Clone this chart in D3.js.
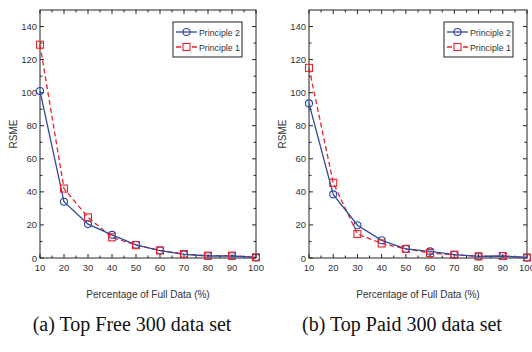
<!DOCTYPE html>
<html>
<head>
<meta charset="utf-8">
<script src="https://cdn.jsdelivr.net/npm/d3@7"></script>
<style>
  body { margin: 0; background: #fff; }
  svg text { font-family: "Liberation Sans", Arial, sans-serif; }
</style>
</head>
<body>
<svg id="chart" width="532" height="352"></svg>
<script>
var percentages = [10, 20, 30, 40, 50, 60, 70, 80, 90, 100];
var yTicks = [0, 20, 40, 60, 80, 100, 120, 140];

var freePrinciple2 = [101, 34, 20.5, 14, 8, 4.5, 2.2, 1.2, 1.2, 0.4];
var freePrinciple1 = [129, 42, 24.6, 12.5, 7.8, 4.6, 2.4, 1.4, 1.4, 0.4];
var paidPrinciple2 = [93.5, 38.5, 19.8, 10.7, 5.5, 4, 2, 1, 1.2, 0.3];
var paidPrinciple1 = [115, 45.5, 14.5, 8.8, 5.5, 3, 2, 1, 1.2, 0.3];

var captions = ['(a) Top Free 300 data set', '(b) Top Paid 300 data set'];
var blue = '#2e4a9e', red = '#e8232b';

var svg = d3.select('#chart');

function drawPanel(left, right, p2, p1, caption, captionX, legendX) {
    var top = 10, bottom = 258;
    var x = d3.scaleLinear().domain([10, 100]).range([left, right]);
    var y = d3.scaleLinear().domain([0, 150]).range([bottom, top]);
    var g = svg.append('g');

    // frame
    g.append('rect').attr('x', left).attr('y', top)
        .attr('width', right - left).attr('height', bottom - top)
        .attr('fill', 'none').attr('stroke', '#222').attr('stroke-width', 1);

    // inward ticks (major + minor)
    var xMinor = d3.range(15, 100, 10);
    var yMinor = d3.range(10, 150, 20);
    g.selectAll('.xt').data(percentages.concat(xMinor)).enter().append('line')
        .attr('x1', function(d) { return x(d); }).attr('x2', function(d) { return x(d); })
        .attr('y1', bottom).attr('y2', function(d) { return bottom - (d % 10 ? 2.5 : 4); })
        .attr('stroke', '#222');
    g.selectAll('.xtt').data(percentages.concat(xMinor)).enter().append('line')
        .attr('x1', function(d) { return x(d); }).attr('x2', function(d) { return x(d); })
        .attr('y1', top).attr('y2', function(d) { return top + (d % 10 ? 2.5 : 4); })
        .attr('stroke', '#222');
    g.selectAll('.yt').data(yTicks.concat(yMinor)).enter().append('line')
        .attr('y1', function(d) { return y(d); }).attr('y2', function(d) { return y(d); })
        .attr('x1', left).attr('x2', function(d) { return left + (d % 20 ? 2.5 : 4); })
        .attr('stroke', '#222');
    g.selectAll('.ytr').data(yTicks.concat(yMinor)).enter().append('line')
        .attr('y1', function(d) { return y(d); }).attr('y2', function(d) { return y(d); })
        .attr('x1', right).attr('x2', function(d) { return right - (d % 20 ? 2.5 : 4); })
        .attr('stroke', '#222');

    // tick labels
    g.selectAll('.xl').data(percentages).enter().append('text')
        .attr('x', function(d) { return x(d); }).attr('y', bottom + 13)
        .attr('text-anchor', 'middle').attr('font-size', 9.5).attr('fill', '#333')
        .text(function(d) { return d; });
    g.selectAll('.yl').data(yTicks).enter().append('text')
        .attr('x', left - 3).attr('y', function(d) { return y(d) + 3.5; })
        .attr('text-anchor', 'end').attr('font-size', 9.5).attr('fill', '#333')
        .text(function(d) { return d; });

    // axis titles
    g.append('text').attr('x', (left + right) / 2).attr('y', 298)
        .attr('text-anchor', 'middle').attr('font-size', 10).attr('fill', '#333')
        .text('Percentage of Full Data (%)');
    g.append('text').attr('transform', 'translate(' + (left - 23) + ',' + ((top + bottom) / 2) + ') rotate(-90)')
        .attr('text-anchor', 'middle').attr('font-size', 10).attr('fill', '#333')
        .text('RSME');

    // caption
    g.append('text').attr('x', captionX).attr('y', 331)
        .attr('text-anchor', 'middle').attr('font-size', 20)
        .style('font-family', '"Liberation Serif", "DejaVu Serif", serif').attr('fill', '#111')
        .text(caption);

    var line = d3.line()
        .x(function(d, i) { return x(percentages[i]); })
        .y(function(d) { return y(d); });

    g.append('path').datum(p1).attr('d', line).attr('fill', 'none')
        .attr('stroke', red).attr('stroke-width', 1.3).attr('stroke-dasharray', '5,3');
    g.append('path').datum(p2).attr('d', line).attr('fill', 'none')
        .attr('stroke', blue).attr('stroke-width', 1.3);

    g.selectAll('.c').data(p2).enter().append('circle')
        .attr('cx', function(d, i) { return x(percentages[i]); })
        .attr('cy', function(d) { return y(d); })
        .attr('r', 3.5).attr('fill', 'none').attr('stroke', blue).attr('stroke-width', 1.1);
    g.selectAll('.s').data(p1).enter().append('rect')
        .attr('x', function(d, i) { return x(percentages[i]) - 3.5; })
        .attr('y', function(d) { return y(d) - 3.5; })
        .attr('width', 7).attr('height', 7)
        .attr('fill', 'none').attr('stroke', red).attr('stroke-width', 1.1);

    // legend
    var lg = g.append('g').attr('transform', 'translate(' + legendX + ',22)');
    lg.append('rect').attr('width', 69).attr('height', 35)
        .attr('fill', '#fff').attr('stroke', '#222').attr('stroke-width', 1);
    lg.append('line').attr('x1', 3).attr('x2', 24).attr('y1', 10).attr('y2', 10)
        .attr('stroke', blue).attr('stroke-width', 1.3);
    lg.append('circle').attr('cx', 13.5).attr('cy', 10).attr('r', 3.5)
        .attr('fill', 'none').attr('stroke', blue).attr('stroke-width', 1.1);
    lg.append('line').attr('x1', 3).attr('x2', 24).attr('y1', 25).attr('y2', 25)
        .attr('stroke', red).attr('stroke-width', 1.3).attr('stroke-dasharray', '5,3');
    lg.append('rect').attr('x', 10).attr('y', 21.5).attr('width', 7).attr('height', 7)
        .attr('fill', '#fff').attr('stroke', red).attr('stroke-width', 1.1);
    lg.append('text').attr('x', 26).attr('y', 13.5).attr('font-size', 9.5).attr('fill', '#333')
        .attr('textLength', 41).attr('lengthAdjust', 'spacingAndGlyphs')
        .text('Principle 2');
    lg.append('text').attr('x', 26).attr('y', 28.5).attr('font-size', 9.5).attr('fill', '#333')
        .attr('textLength', 41).attr('lengthAdjust', 'spacingAndGlyphs')
        .text('Principle 1');
}

drawPanel(40, 256, freePrinciple2, freePrinciple1, captions[0], 132, 173);
drawPanel(309, 527, paidPrinciple2, paidPrinciple1, captions[1], 402, 444);
</script>
</body>
</html>
